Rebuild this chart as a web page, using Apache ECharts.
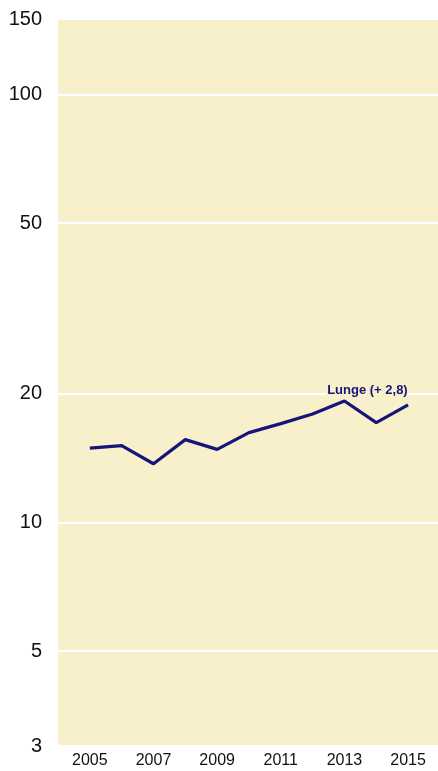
<!DOCTYPE html>
<html lang="de">
<head>
    <meta charset="UTF-8">
    <title>Lunge</title>
    <script src="https://cdn.jsdelivr.net/npm/echarts@6/dist/echarts.min.js"></script>
    <style>
        html, body {
            margin: 0;
            padding: 0;
            background: #fff;
        }
        #chart {
            width: 438px;
            height: 771px;
        }
    </style>
</head>
<body>
<div id="chart"></div>
<script>
    // Daten
    var years = [2005, 2006, 2007, 2008, 2009, 2010, 2011, 2012, 2013, 2014, 2015];
    var lunge = [14.9, 15.1, 13.7, 15.6, 14.8, 16.2, 17.0, 17.9, 19.2, 17.1, 18.8];
    var yTicks = [3, 5, 10, 20, 50, 100, 150];
    var seriesName = 'Lunge (+ 2,8)';
    var labelYear = 2013;

    var navy = '#15157a';
    var paper = '#f8f0ca';

    var chart = echarts.init(document.getElementById('chart'));
    var option = {
        animation: false,
        grid: {
            left: 58,
            right: 0,
            top: 19,
            bottom: 25,
            show: true,
            backgroundColor: paper,
            borderWidth: 0
        },
        xAxis: {
            type: 'value',
            min: 2004,
            max: 2015.94,
            interval: 1,
            axisLine: {show: false},
            axisTick: {show: false},
            splitLine: {show: false},
            axisLabel: {
                color: '#111',
                fontFamily: 'Liberation Sans',
                fontSize: 16,
                margin: 7,
                showMaxLabel: false,
                formatter: function (v) {
                    return v % 2 === 1 ? String(v) : '';
                }
            }
        },
        yAxis: {
            type: 'log',
            logBase: 10,
            min: 3,
            max: 150,
            axisLine: {show: false},
            axisTick: {show: false, customValues: yTicks},
            splitLine: {
                show: true,
                lineStyle: {color: '#fff', width: 2}
            },
            axisLabel: {
                customValues: yTicks,
                color: '#111',
                fontFamily: 'Liberation Sans',
                fontSize: 20,
                margin: 16
            }
        },
        series: [
            {
                name: seriesName,
                type: 'line',
                data: years.map(function (y, i) {
                    var item = {value: [y, lunge[i]]};
                    if (y === labelYear) {
                        item.label = {
                            show: true,
                            position: 'top',
                            distance: 4,
                            offset: [23, 0],
                            formatter: seriesName,
                            color: navy,
                            fontFamily: 'Liberation Sans',
                            fontWeight: 'bold',
                            fontSize: 13,
                            backgroundColor: paper,
                            padding: [0, 1]
                        };
                    }
                    return item;
                }),
                showSymbol: true,
                symbol: 'circle',
                symbolSize: 0,
                lineStyle: {color: navy, width: 3.2},
                itemStyle: {color: navy}
            }
        ]
    };
    chart.setOption(option);
</script>
</body>
</html>
